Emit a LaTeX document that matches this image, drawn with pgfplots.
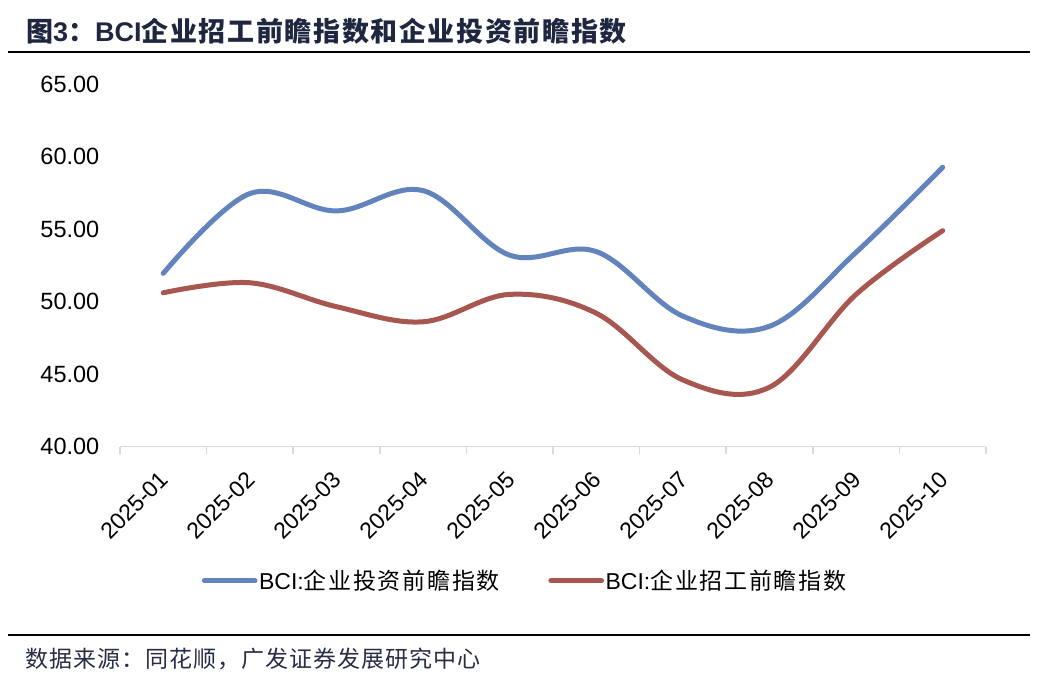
\documentclass[border=0pt]{standalone}
\usepackage{pgfplots}
\pgfplotsset{compat=1.18}
\usepackage{fontspec}
\setmainfont{Liberation Sans}
\newfontfamily\cjk{Noto Sans CJK SC}
\definecolor{invblue}{RGB}{99,131,189}
\definecolor{hirered}{RGB}{168,86,80}
\definecolor{axisgray}{RGB}{217,217,217}
\definecolor{titlecol}{RGB}{31,38,64}
\definecolor{notecol}{RGB}{40,45,70}
\newcommand{\lcjk}{\cjk\addfontfeature{LetterSpace=7.5}}
\begin{document}
\begin{tikzpicture}
\path[use as bounding box] (0pt,0pt) rectangle (1038pt,-682pt);
% title and rules
\node[anchor=base west, inner sep=0pt, text=titlecol,
  font=\fontsize{27}{30}\selectfont\bfseries] at (26pt,-42pt)
  {{\cjk\addfontfeature{LetterSpace=6}图}3{\cjk ：}BCI{\cjk\addfontfeature{LetterSpace=6}企业招工前瞻指数和企业投资前瞻指数}};
\draw[line width=2pt] (8pt,-52.3pt) -- (1030pt,-52.3pt);
\draw[line width=2pt] (8pt,-635pt) -- (1030pt,-635pt);
\node[anchor=west, inner sep=0pt, text=notecol,
  font=\cjk\fontsize{23}{26}\selectfont\addfontfeature{LetterSpace=4.5}] at (25pt,-659pt)
  {数据来源：同花顺，广发证券发展研究中心};

\begin{axis}[
  at={(120pt,-446.7pt)}, anchor=south west,
  width=866pt, height=362.7pt, scale only axis,
  xmin=0.5, xmax=10.5, ymin=40, ymax=65,
  axis x line*=bottom, axis y line*=left,
  y axis line style={draw=none},
  x axis line style={draw=axisgray, line width=1.5pt},
  xtick={1,...,10},
  xticklabels={2025-01,2025-02,2025-03,2025-04,2025-05,2025-06,2025-07,2025-08,2025-09,2025-10},
  minor xtick={0.5,1.5,...,10.5},
  tick align=outside, major tick length=0pt, minor tick length=7.5pt,
  major tick style={draw=none},
  minor x tick style={draw=axisgray, line width=1.5pt},
  ytick={40,45,...,65},
  /pgf/number format/assume math mode=true,
  yticklabel style={/pgf/number format/.cd, fixed, fixed zerofill, precision=2, /tikz/.cd,
    font=\fontsize{23.5}{26}\selectfont, anchor=east, inner sep=0pt, xshift=-20.5pt},
  xticklabel style={font=\fontsize{23}{26}\selectfont, inner sep=0pt,
    yshift=-28.5pt, xshift=1pt, anchor=east, rotate=45},
  legend style={at={(0.0943,-0.3694)}, anchor=west, draw=none, fill=none,
    legend columns=2, inner sep=0pt, font=\fontsize{23}{26}\selectfont,
    nodes={inner sep=1.5pt},
    /tikz/every even column/.append style={column sep=47pt}},
  legend cell align=left,
  legend image code/.code={\draw[#1, line width=5.3pt, line cap=round] (2.6pt,0pt) -- (53pt,0pt);},
]
% BCI enterprise investment index
\addplot[invblue, line width=5pt, line cap=round, smooth, tension=0.6] coordinates {
  (1,51.95) (2,57.45) (3,56.25) (4,57.65) (5,53.2)
  (6,53.45) (7,49.0) (8,48.3) (9,53.4) (10,59.26)
};
\addlegendentry{BCI:{\lcjk 企业投资前瞻指数}}
% BCI hiring index
\addplot[hirered, line width=5pt, line cap=round, smooth, tension=0.6] coordinates {
  (1,50.61) (2,51.3) (3,49.65) (4,48.61) (5,50.5)
  (6,49.2) (7,44.6) (8,44.1) (9,50.5) (10,54.89)
};
\addlegendentry{BCI:{\lcjk 企业招工前瞻指数}}
\end{axis}
\end{tikzpicture}
\end{document}
